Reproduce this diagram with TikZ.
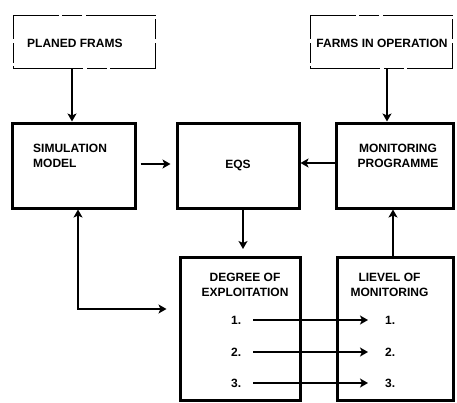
\documentclass[tikz,border=0pt]{standalone}
\usepackage{fontspec}
\setmainfont{Liberation Sans}
\usetikzlibrary{arrows.meta}
\begin{document}
\begin{tikzpicture}[x=1pt,y=-1pt,
  font=\fontsize{12}{15}\selectfont\bfseries,
  box/.style={draw,line width=3pt,inner sep=0pt},
  inbox/.style={draw,line width=0.8pt,dash pattern=on 70pt off 4pt on 20pt off 3pt,inner sep=0pt,
    minimum width=142pt,minimum height=53pt},
  arr/.style={line width=2.6pt,-{Stealth[length=8pt,width=9pt,inset=2pt]}},
  lbl/.style={align=center,inner sep=0pt}]
  \useasboundingbox (0,0) rectangle (457,402);
  % Inputs
  \node[inbox] (planed) at (84,41.5) {};
  \node[inbox] (farms) at (381,41.5) {};
  \node[lbl,anchor=west] (planedtxt) at (27,43) {PLANED FRAMS};
  \node[lbl] (farmstxt) at (382,43) {FARMS IN OPERATION};
  % Main boxes
  \node[box,minimum width=123pt,minimum height=85pt] (sim) at (73.5,165.5) {};
  \node[box,minimum width=122pt,minimum height=85pt] (eqs) at (238,165.5) {};
  \node[box,minimum width=117pt,minimum height=85pt] (mon) at (394.5,165.5) {};
  \node[box,minimum width=120pt,minimum height=143pt] (deg) at (240,329) {};
  \node[box,minimum width=116pt,minimum height=143pt] (lev) at (395,329) {};
  % Labels
  \node[lbl,align=left,anchor=west] (simtxt) at (33,155.5) {SIMULATION\\MODEL};
  \node[lbl] (eqstxt) at (238,165) {EQS};
  \node[lbl] (montxt) at (398,155.5) {MONITORING\\PROGRAMME};
  \node[lbl] (degtxt) at (245,284.5) {DEGREE OF\\EXPLOITATION};
  \node[lbl] (levtxt) at (389.5,284.5) {LIEVEL OF\\MONITORING};
  % Arrows
  \draw[arr] ([xshift=-12pt]planed.south) -- ([xshift=-12pt]planed.south |- sim.north);
  \draw[arr] ([xshift=6pt]farms.south) -- ([xshift=6pt]farms.south |- mon.north);
  \draw[arr,shorten <=4pt,shorten >=5pt] ([yshift=1.5pt]sim.east) -- ([yshift=1.5pt]eqs.west);
  \draw[arr] ([yshift=2.5pt]mon.east -| mon.west) -- ([yshift=2.5pt]eqs.east);
  \draw[arr,shorten >=7pt] ([xshift=5pt]eqs.south) -- ([xshift=5pt]eqs.south |- deg.north);
  \draw[arr] ([xshift=-2pt]lev.north) -- ([xshift=-2pt]lev.north |- mon.south);
  \draw[line width=2.6pt,{Stealth[length=8pt,width=9pt,inset=2pt]}-{Stealth[length=8pt,width=9pt,inset=2pt]},shorten >=12pt]
    ([xshift=4.5pt]sim.south) |- ([yshift=20pt]deg.west);
  % Numbered rows
  \foreach \i/\y in {1/320,2/352,3/383}{
    \node[lbl,anchor=west] (dl\i) at (231,\y) {\i.};
    \node[lbl,anchor=west] (ll\i) at (385,\y) {\i.};
    \draw[arr,shorten <=12pt,shorten >=17pt] (dl\i.east) -- (ll\i.west);
  }
\end{tikzpicture}
\end{document}
